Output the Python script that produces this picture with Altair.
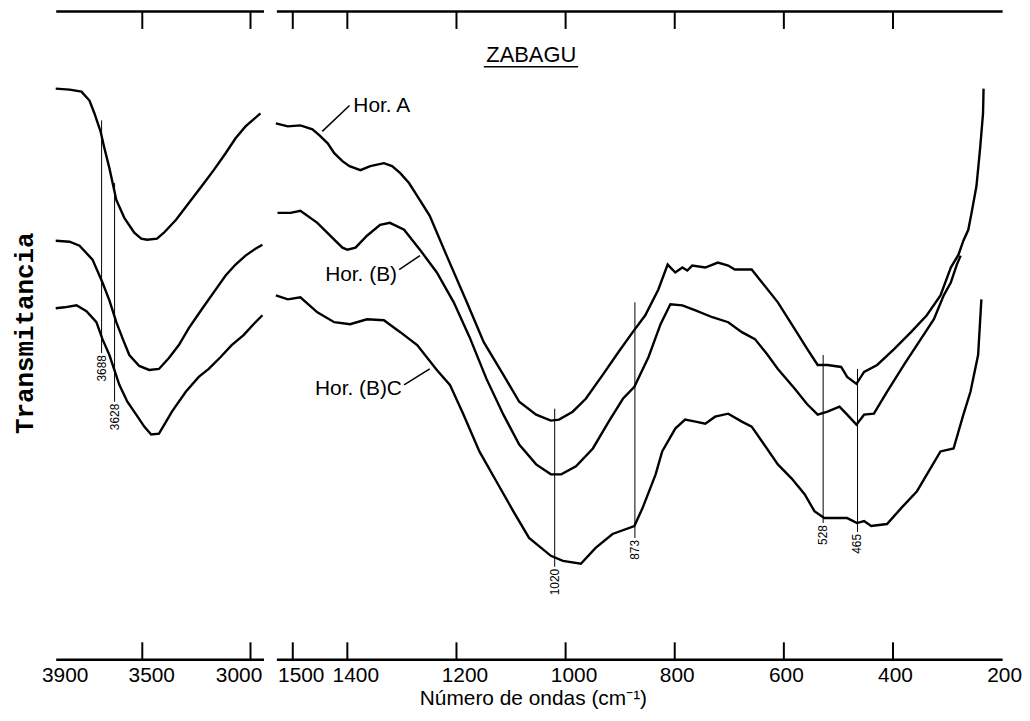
import altair as alt
import pandas as pd

# ---------------- data ----------------
# Left panel (3900 - 2940 cm-1); transmittance in arbitrary units (0 = bottom, 652 = top)
HOR_A_WN_L = [3900, 3836, 3781, 3744, 3721, 3693, 3675, 3652, 3620, 3583, 3537, 3505, 3478, 3432,
              3400, 3344, 3285, 3225, 3170, 3115, 3069, 3023, 2986, 2954]
HOR_A_T_L = [574, 573, 571, 562, 549, 531, 514, 494, 462, 444, 429, 423, 422, 423,
             429, 442, 459, 476, 492, 509, 524, 536, 543, 549]

HOR_B_WN_L = [3900, 3836, 3790, 3730, 3684, 3652, 3620, 3588, 3560, 3514, 3468, 3423, 3377, 3331,
              3285, 3225, 3170, 3115, 3069, 3023, 2977, 2945]
HOR_B_T_L = [421, 420, 416, 402, 379, 361, 339, 321, 306, 295, 291, 292, 303, 316,
             333, 352, 369, 386, 397, 406, 413, 417]

HOR_BC_WN_L = [3900, 3859, 3804, 3758, 3712, 3684, 3652, 3606, 3569, 3528, 3491, 3459, 3423, 3390,
               3363, 3299, 3239, 3193, 3138, 3087, 3032, 2986, 2945]
HOR_BC_T_L = [353, 354, 356, 350, 339, 322, 306, 276, 259, 246, 234, 226, 227, 239,
              249, 269, 284, 292, 304, 316, 326, 337, 346]

# Right panel (1530 - 200 cm-1)
HOR_A_WN_R = [1531, 1509, 1486, 1464, 1451, 1436, 1424, 1409, 1396, 1376, 1358, 1333, 1318, 1303,
              1287, 1272, 1249, 1218, 1181, 1150, 1114, 1085, 1054, 1027, 1012, 987, 963, 932, 903,
              877, 854, 830, 813, 799, 786, 777, 768, 744, 721, 702, 690, 659, 640, 611, 580, 557,
              538, 520, 495, 484, 467, 453, 429, 398, 367, 338, 313, 294, 280, 271, 262, 256, 247,
              240, 235, 234]
HOR_A_T_R = [539, 536, 537, 533, 527, 519, 509, 501, 496, 492, 496, 499, 496, 489,
             479, 466, 446, 406, 359, 319, 286, 259, 246, 240, 241, 249, 262, 286, 309,
             329, 346, 372, 397, 389, 394, 391, 396, 394, 399, 396, 392, 392, 379, 359, 332, 312,
             296, 296, 294, 284, 277, 289, 296, 312, 329, 346, 366, 394, 407, 421, 432, 449, 476,
             516, 549, 574]

HOR_B_WN_R = [1528, 1504, 1486, 1455, 1424, 1409, 1400, 1385, 1364, 1340, 1322, 1296, 1267, 1236,
              1205, 1176, 1145, 1114, 1085, 1054, 1027, 1008, 981, 950, 921, 895, 874, 848, 826,
              808, 786, 762, 731, 702, 677, 653, 631, 611, 580, 558, 538, 520, 498, 484, 467, 453,
              435, 411, 380, 349, 325, 307, 294, 283, 276]
HOR_B_T_R = [449, 449, 451, 439, 422, 414, 412, 414, 426, 437, 439, 432, 412, 389,
             359, 324, 282, 246, 216, 196, 186, 186, 194, 212, 239, 262, 274, 304, 337,
             357, 356, 351, 344, 339, 329, 322, 307, 292, 272, 257, 246, 249, 254, 246, 236, 246,
             247, 269, 296, 322, 342, 366, 379, 397, 406]

HOR_BC_WN_R = [1531, 1509, 1486, 1455, 1424, 1395, 1364, 1333, 1303, 1272, 1236, 1212, 1187, 1158,
               1127, 1096, 1067, 1027, 1005, 972, 945, 914, 874, 859, 835, 823, 799, 781, 762, 744,
               726, 702, 677, 659, 640, 611, 586, 562, 544, 526, 484, 466, 453, 440, 411, 385, 356,
               313, 289, 271, 258, 244, 238]
HOR_BC_T_R = [366, 362, 364, 349, 339, 337, 342, 341, 329, 316, 291, 276, 246, 209,
              179, 149, 122, 104, 99, 96, 112, 126, 134, 152, 186, 209, 232, 241, 239, 237,
              244, 247, 239, 234, 219, 196, 182, 166, 149, 142, 142, 137, 139, 134, 136, 152, 169,
              209, 212, 246, 269, 306, 362]

# marked bands
MARK_WN_L = [3688, 3628]
MARK_TOP_L = [542, 479]
MARK_BOT_L = [308, 259]
MARK_WN_R = [1020, 873, 528, 465]
MARK_TOP_R = [252, 359, 306, 292]
MARK_BOT_R = [93, 122, 137, 128]

# axis tick values
TICKS_L = [3500, 3000]
LABELS_L = [3900, 3500, 3000]
TICKS_R = [1500, 1400, 1200, 1000, 800, 600, 400]
LABELS_R = [1500, 1400, 1200, 1000, 800, 600, 400, 200]

# curve annotations
ANN_TEXT = ["Hor. A", "Hor. (B)", "Hor. (B)C"]
ANN_WN = [1389, 1309, 1300]
ANN_T = [556, 386, 272]
ANN_ALIGN = ["left", "right", "right"]
LEAD_WN1 = [1446, 1305, 1296]
LEAD_T1 = [531, 392, 276]
LEAD_WN2 = [1396, 1267, 1249]
LEAD_T2 = [557, 406, 292]

TITLE_TEXT = "ZABAGU"
TITLE_WN = 1063
TITLE_T = 608
UNDER_WN = [1150, 977]
UNDER_T = 596

Y_TITLE = "Transmitancia"
X_TITLE = "Número de ondas (cm⁻¹)"

# ---------------- building ----------------
H = 652
SANS = "Liberation Sans"
NARROW = "Liberation Sans Narrow, Liberation Sans"


def curves(series):
    rows = []
    for name, wn, t in series:
        for i, (w, v) in enumerate(zip(wn, t)):
            rows.append({"serie": name, "i": i, "wn": w, "t": v})
    return pd.DataFrame(rows)


left_lines = curves([("A", HOR_A_WN_L, HOR_A_T_L), ("B", HOR_B_WN_L, HOR_B_T_L),
                     ("BC", HOR_BC_WN_L, HOR_BC_T_L)])
right_lines = curves([("A", HOR_A_WN_R, HOR_A_T_R), ("B", HOR_B_WN_R, HOR_B_T_R),
                      ("BC", HOR_BC_WN_R, HOR_BC_T_R)])

y_scale = alt.Scale(domain=[0, H], nice=False, zero=False)

axis_common = dict(grid=False, ticks=False, tickSize=0, domain=True, domainColor="black",
                   domainWidth=2.5)


def panel(lines, domain, width, tick_vals, label_vals, mwn, mtop, mbot, yorient, label_offset,
          xtitle=None, extra=None):
    xs = alt.Scale(domain=domain, nice=False, zero=False)
    xaxis_kw = dict(axis_common, orient="bottom", values=label_vals, format="d",
                    labelFont=SANS, labelFontSize=21, labelColor="black", labelPadding=5,
                    labelOverlap=False, labelFlush=False, labelOffset=label_offset)
    if xtitle is not None:
        xaxis_kw.update(title=xtitle, titleFont=SANS, titleFontSize=21, titleFontWeight="normal",
                        titleColor="black", titleX=258, titlePadding=3)
    else:
        xaxis_kw.update(title=None)
    yaxis_kw = dict(axis_common, orient=yorient, labels=False, title=None)

    line = alt.Chart(lines).mark_line(color="black", strokeWidth=2.4).encode(
        x=alt.X("wn:Q", scale=xs, axis=alt.Axis(**xaxis_kw)),
        y=alt.Y("t:Q", scale=y_scale, axis=alt.Axis(**yaxis_kw)),
        detail="serie:N",
        order="i:Q",
    )
    ticks_df = pd.DataFrame({"v": tick_vals})
    top_kw = dict(axis_common, orient="top", labels=False, title=None)
    top = alt.Chart(ticks_df).mark_rule(color="black", strokeWidth=2).encode(
        x=alt.X("v:Q", scale=xs, axis=alt.Axis(**top_kw)),
        y=alt.value(0), y2=alt.value(18),
    )
    bottom = alt.Chart(ticks_df).mark_rule(color="black", strokeWidth=2).encode(
        x=alt.X("v:Q", scale=xs, axis=None),
        y=alt.value(H), y2=alt.value(H - 17),
    )
    marks_df = pd.DataFrame({"wn": mwn, "top": mtop, "bot": mbot,
                             "txt": [str(v) for v in mwn]})
    mrule = alt.Chart(marks_df).mark_rule(color="black", strokeWidth=1).encode(
        x=alt.X("wn:Q", scale=xs, axis=None),
        y=alt.Y("top:Q", scale=y_scale, axis=None), y2="bot:Q",
    )
    mtext = alt.Chart(marks_df).transform_calculate(lab="datum.bot - 2").mark_text(
        angle=270, align="right", baseline="middle", font=NARROW, fontSize=12, color="black"
    ).encode(
        x=alt.X("wn:Q", scale=xs, axis=None),
        y=alt.Y("lab:Q", scale=y_scale, axis=None),
        text="txt:N",
    )
    layers = [line, top, bottom, mrule, mtext]
    if extra is not None:
        layers += extra(xs)
    return alt.layer(*layers).resolve_axis(x="independent").properties(width=width, height=H)


def left_extra(xs):
    yt = pd.DataFrame({"txt": [Y_TITLE]})
    return [
        alt.Chart(yt).mark_text(angle=270, align="center", baseline="middle",
                                font="Liberation Mono", fontSize=26, fontWeight="bold",
                                color="black").encode(
            x=alt.value(-31), y=alt.value(324), text="txt:N"
        )
    ]


def right_extra(xs):
    ann = pd.DataFrame({"txt": ANN_TEXT, "wn": ANN_WN, "t": ANN_T, "al": ANN_ALIGN})
    out = []
    for al in ["left", "right"]:
        out.append(
            alt.Chart(ann).transform_filter(alt.datum.al == al).mark_text(
                align=al, baseline="middle", font=SANS, fontSize=21, color="black"
            ).encode(
                x=alt.X("wn:Q", scale=xs, axis=None),
                y=alt.Y("t:Q", scale=y_scale, axis=None),
                text="txt:N",
            )
        )
    lead = pd.DataFrame({"x1": LEAD_WN1, "y1": LEAD_T1, "x2": LEAD_WN2, "y2": LEAD_T2})
    out.append(
        alt.Chart(lead).mark_rule(color="black", strokeWidth=1.5).encode(
            x=alt.X("x1:Q", scale=xs, axis=None), x2="x2:Q",
            y=alt.Y("y1:Q", scale=y_scale, axis=None), y2="y2:Q",
        )
    )
    ttl = pd.DataFrame({"txt": [TITLE_TEXT], "wn": [TITLE_WN], "t": [TITLE_T]})
    out.append(
        alt.Chart(ttl).mark_text(align="center", baseline="middle", font=SANS, fontSize=22,
                                 color="black").encode(
            x=alt.X("wn:Q", scale=xs, axis=None),
            y=alt.Y("t:Q", scale=y_scale, axis=None),
            text="txt:N",
        )
    )
    und = pd.DataFrame({"x1": [UNDER_WN[0]], "x2": [UNDER_WN[1]], "t": [UNDER_T]})
    out.append(
        alt.Chart(und).mark_rule(color="black", strokeWidth=1.6).encode(
            x=alt.X("x1:Q", scale=xs, axis=None), x2="x2:Q",
            y=alt.Y("t:Q", scale=y_scale, axis=None),
        )
    )
    return out


left_offset = {"condition": {"test": "datum.value == 3000", "value": -12},
               "value": 9}
right_offset = {"condition": {"test": "datum.value >= 1000", "value": 8},
                "value": 2}

left = panel(left_lines, [3900, 2940], 209, TICKS_L, LABELS_L, MARK_WN_L, MARK_TOP_L,
             MARK_BOT_L, "left", left_offset, extra=left_extra)
right = panel(right_lines, [1530, 200], 730, TICKS_R, LABELS_R, MARK_WN_R, MARK_TOP_R,
              MARK_BOT_R, "right", right_offset, xtitle=X_TITLE, extra=right_extra)

chart = alt.hconcat(left, right, spacing=13, bounds="flush").properties(
    padding={"left": 4, "top": 0, "right": 0, "bottom": 0}
).configure_view(stroke=None)

chart.save("out.html", embed_options={"renderer": "svg", "actions": False})
